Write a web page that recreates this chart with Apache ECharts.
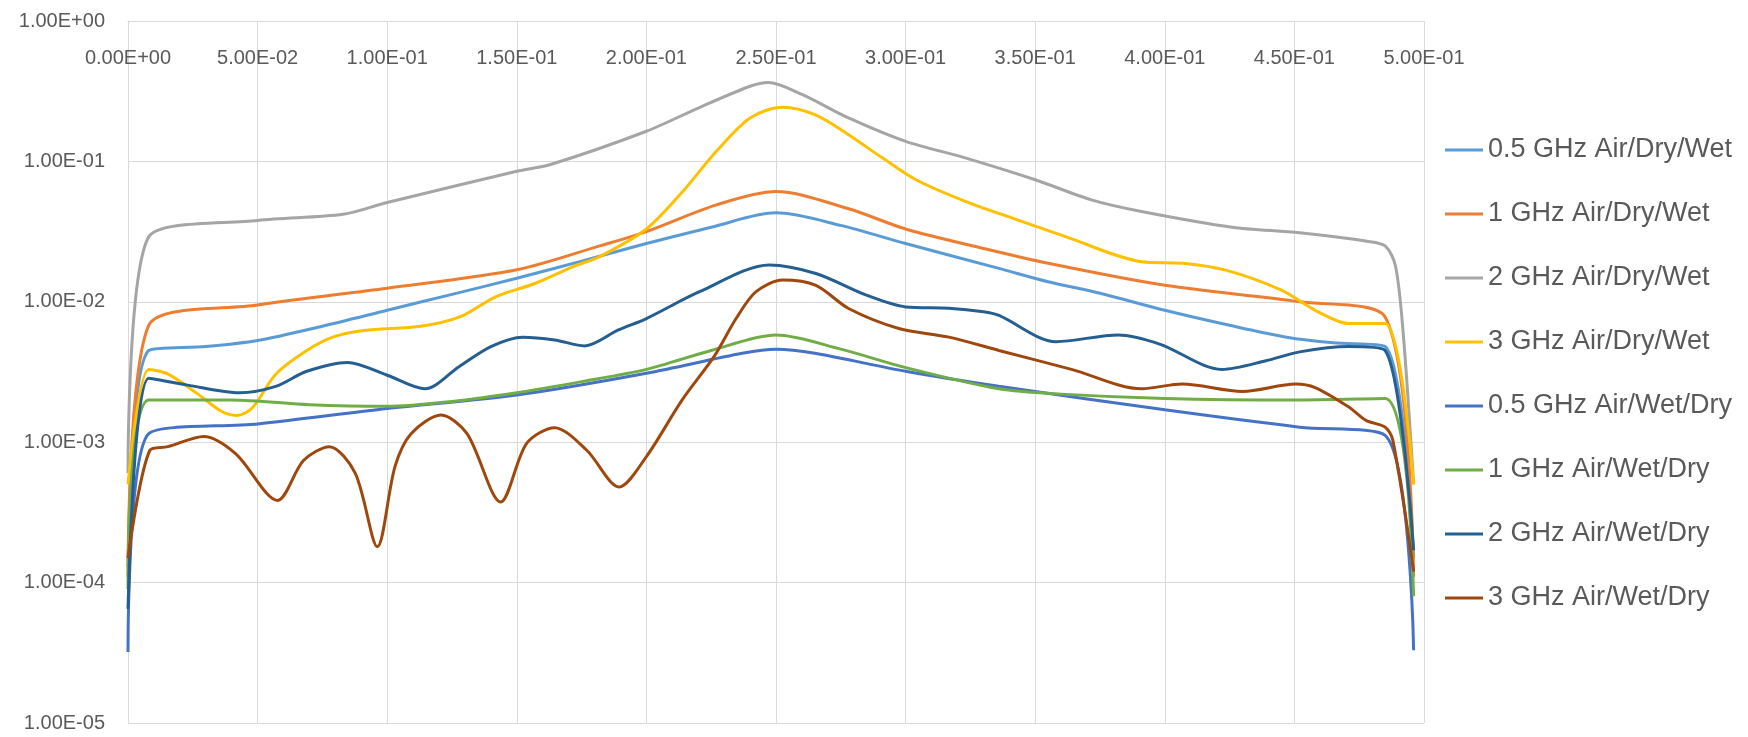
<!DOCTYPE html>
<html>
<head>
<meta charset="utf-8">
<script src="https://cdn.jsdelivr.net/npm/echarts/dist/echarts.min.js"></script>
<style>
  html, body { margin: 0; padding: 0; background: #fff; }
  #chart { width: 1748px; height: 737px; }
</style>
</head>
<body>
<div id="chart"></div>
<script>
// legend names, in the order the lines are drawn
const names = [
  '0.5 GHz Air/Dry/Wet', '1 GHz Air/Dry/Wet', '2 GHz Air/Dry/Wet', '3 GHz Air/Dry/Wet',
  '0.5 GHz Air/Wet/Dry', '1 GHz Air/Wet/Dry', '2 GHz Air/Wet/Dry', '3 GHz Air/Wet/Dry'
];
const colors = ['#5B9BD5', '#ED7D31', '#A5A5A5', '#FFC000', '#4472C4', '#70AD47', '#255E91', '#9E480E'];

// [x, value]
const s05DryWet = [[0, 1.3e-4], [0.008, 4.5e-3], [0.03, 4.8e-3], [0.05, 5.3e-3], [0.075, 6.7e-3], [0.1, 8.7e-3],
  [0.125, 1.13e-2], [0.15, 1.47e-2], [0.175, 1.95e-2], [0.2, 2.6e-2], [0.225, 3.4e-2], [0.25, 4.3e-2],
  [0.275, 3.5e-2], [0.3, 2.6e-2], [0.336, 1.73e-2], [0.355, 1.39e-2], [0.375, 1.15e-2], [0.4, 8.7e-3],
  [0.425, 6.8e-3], [0.447, 5.6e-3], [0.465, 5.1e-3], [0.485, 4.8e-3], [0.496, 1.5e-4]];
const s1DryWet = [[0, 1.1e-4], [0.008, 6.8e-3], [0.05, 9.5e-3], [0.1, 1.25e-2], [0.15, 1.69e-2], [0.182, 2.5e-2],
  [0.2, 3.16e-2], [0.227, 4.9e-2], [0.25, 6.1e-2], [0.278, 4.6e-2], [0.3, 3.3e-2], [0.33, 2.4e-2],
  [0.355, 1.88e-2], [0.4, 1.31e-2], [0.452, 1.0e-2], [0.485, 7.8e-3], [0.496, 1.1e-4]];
const s2DryWet = [[0, 6e-4], [0.008, 2.9e-2], [0.05, 3.8e-2], [0.083, 4.2e-2], [0.1, 5.1e-2], [0.15, 8.5e-2],
  [0.163, 9.5e-2], [0.2, 0.164], [0.22, 0.24], [0.24, 0.343], [0.247, 0.365], [0.26, 0.3], [0.278, 0.204],
  [0.3, 0.139], [0.323, 0.106], [0.35, 7.4e-2], [0.372, 5.3e-2], [0.391, 4.4e-2], [0.426, 3.4e-2],
  [0.452, 3.1e-2], [0.478, 2.7e-2], [0.485, 2.5e-2], [0.489, 1.8e-2], [0.492, 5.9e-3], [0.496, 5e-4]];
const s3DryWet = [[0, 5e-4], [0.008, 3.3e-3], [0.0155, 3.05e-3], [0.027, 2.2e-3], [0.036, 1.66e-3], [0.042, 1.55e-3],
  [0.048, 1.76e-3], [0.057, 3.05e-3], [0.069, 4.5e-3], [0.079, 5.6e-3], [0.091, 6.25e-3], [0.113, 6.7e-3],
  [0.128, 7.8e-3], [0.142, 1.09e-2], [0.157, 1.35e-2], [0.172, 1.79e-2], [0.182, 2.1e-2], [0.2, 3.3e-2],
  [0.214, 6.1e-2], [0.227, 0.118], [0.24, 0.204], [0.2526, 0.243], [0.265, 0.215], [0.278, 0.155],
  [0.291, 0.106], [0.304, 7.4e-2], [0.323, 5.2e-2], [0.342, 3.9e-2], [0.362, 2.9e-2], [0.391, 1.93e-2],
  [0.407, 1.88e-2], [0.4235, 1.68e-2], [0.445, 1.21e-2], [0.458, 8.7e-3], [0.471, 7.0e-3], [0.485, 7.0e-3],
  [0.496, 5e-4]];
const s05WetDry = [[0, 3.2e-5], [0.008, 1.15e-3], [0.05, 1.35e-3], [0.1, 1.74e-3], [0.15, 2.17e-3], [0.2, 3.1e-3],
  [0.237, 4.3e-3], [0.25, 4.6e-3], [0.265, 4.3e-3], [0.3, 3.2e-3], [0.336, 2.5e-3], [0.4, 1.7e-3],
  [0.452, 1.28e-3], [0.485, 1.12e-3], [0.496, 3.3e-5]];
const s1WetDry = [[0, 9e-5], [0.008, 2.0e-3], [0.04, 2.0e-3], [0.07, 1.85e-3], [0.1, 1.8e-3], [0.125, 1.95e-3],
  [0.15, 2.25e-3], [0.175, 2.7e-3], [0.2, 3.3e-3], [0.225, 4.5e-3], [0.25, 5.8e-3], [0.275, 4.6e-3],
  [0.3, 3.4e-3], [0.336, 2.4e-3], [0.36, 2.2e-3], [0.4, 2.05e-3], [0.45, 2.0e-3], [0.485, 2.05e-3],
  [0.496, 8e-5]];
const s2WetDry = [[0, 6.5e-5], [0.008, 2.85e-3], [0.023, 2.55e-3], [0.043, 2.25e-3], [0.057, 2.5e-3], [0.069, 3.2e-3],
  [0.0846, 3.7e-3], [0.1, 3.0e-3], [0.1146, 2.4e-3], [0.1277, 3.45e-3], [0.14, 4.8e-3], [0.1523, 5.6e-3],
  [0.1646, 5.35e-3], [0.1762, 4.85e-3], [0.1892, 6.3e-3], [0.2, 7.6e-3], [0.2205, 1.18e-2], [0.2474, 1.83e-2],
  [0.2654, 1.59e-2], [0.2846, 1.12e-2], [0.3, 9.2e-3], [0.3167, 9.0e-3], [0.33, 8.5e-3], [0.336, 8.0e-3],
  [0.358, 5.2e-3], [0.382, 5.8e-3], [0.398, 5.0e-3], [0.422, 3.3e-3], [0.439, 3.8e-3], [0.452, 4.4e-3],
  [0.471, 4.8e-3], [0.485, 4.5e-3], [0.496, 1.7e-4]];
const s3WetDry = [[0, 1.5e-4], [0.0085, 8.8e-4], [0.0154, 9.3e-4], [0.0292, 1.1e-3], [0.0415, 8.3e-4], [0.0577, 3.85e-4],
  [0.0677, 7.4e-4], [0.0777, 9.3e-4], [0.0877, 6.0e-4], [0.0962, 1.8e-4], [0.103, 6.7e-4], [0.1092, 1.15e-3],
  [0.1208, 1.56e-3], [0.1308, 1.15e-3], [0.1438, 3.75e-4], [0.1538, 9.8e-4], [0.1646, 1.27e-3], [0.1769, 8.8e-4],
  [0.1895, 4.8e-4], [0.2, 7.9e-4], [0.2138, 2.0e-3], [0.2262, 4.1e-3], [0.2346, 7.6e-3], [0.2423, 1.18e-2],
  [0.2526, 1.43e-2], [0.2654, 1.31e-2], [0.278, 8.96e-3], [0.2974, 6.45e-3], [0.3167, 5.6e-3], [0.336, 4.5e-3],
  [0.364, 3.3e-3], [0.391, 2.4e-3], [0.4067, 2.6e-3], [0.43, 2.3e-3], [0.4505, 2.6e-3], [0.458, 2.45e-3],
  [0.471, 1.78e-3], [0.4776, 1.43e-3], [0.485, 1.28e-3], [0.488, 1.03e-3], [0.496, 1.2e-4]];

const seriesData = [s05DryWet, s1DryWet, s2DryWet, s3DryWet, s05WetDry, s1WetDry, s2WetDry, s3WetDry];

const font = "'Liberation Sans', Arial, sans-serif";
const textColor = '#595959';
const gridColor = '#D9D9D9';

// 0.05 -> 5.00E-02
function sci(v) {
  const [m, e] = Number(v).toExponential(2).split('e');
  const n = Number(e);
  return m + 'E' + (n < 0 ? '-' : '+') + String(Math.abs(n)).padStart(2, '0');
}

const chart = echarts.init(document.getElementById('chart'));
chart.setOption({
  animation: false,
  backgroundColor: '#fff',
  grid: { left: 128, right: 324, top: 21, bottom: 14 },
  legend: {
    orient: 'vertical',
    left: 1440,
    top: 130,
    icon: 'rect',
    itemWidth: 38,
    itemHeight: 3,
    itemGap: 34,
    textStyle: { fontFamily: font, fontSize: 27, lineHeight: 30, color: textColor },
    data: names
  },
  xAxis: {
    type: 'value',
    position: 'top',
    min: 0,
    max: 0.5,
    interval: 0.05,
    axisLine: { show: true, lineStyle: { color: gridColor } },
    axisTick: { show: false },
    splitLine: { show: true, lineStyle: { color: gridColor } },
    axisLabel: {
      inside: true,
      margin: 27,
      fontFamily: font,
      fontSize: 20,
      color: textColor,
      formatter: sci
    }
  },
  yAxis: {
    type: 'log',
    logBase: 10,
    min: 1e-5,
    max: 1,
    axisLine: { show: true, lineStyle: { color: gridColor } },
    axisTick: { show: false },
    splitLine: { show: true, lineStyle: { color: gridColor } },
    minorSplitLine: { show: false },
    axisLabel: {
      margin: 23,
      fontFamily: font,
      fontSize: 20,
      color: textColor,
      formatter: sci
    }
  },
  series: names.map((name, i) => ({
    name: name,
    type: 'line',
    data: seriesData[i],
    smooth: 0.3,
    symbol: 'none',
    z: 2 + i,
    lineStyle: { width: 3, color: colors[i] },
    itemStyle: { color: colors[i] }
  }))
});
</script>
</body>
</html>
